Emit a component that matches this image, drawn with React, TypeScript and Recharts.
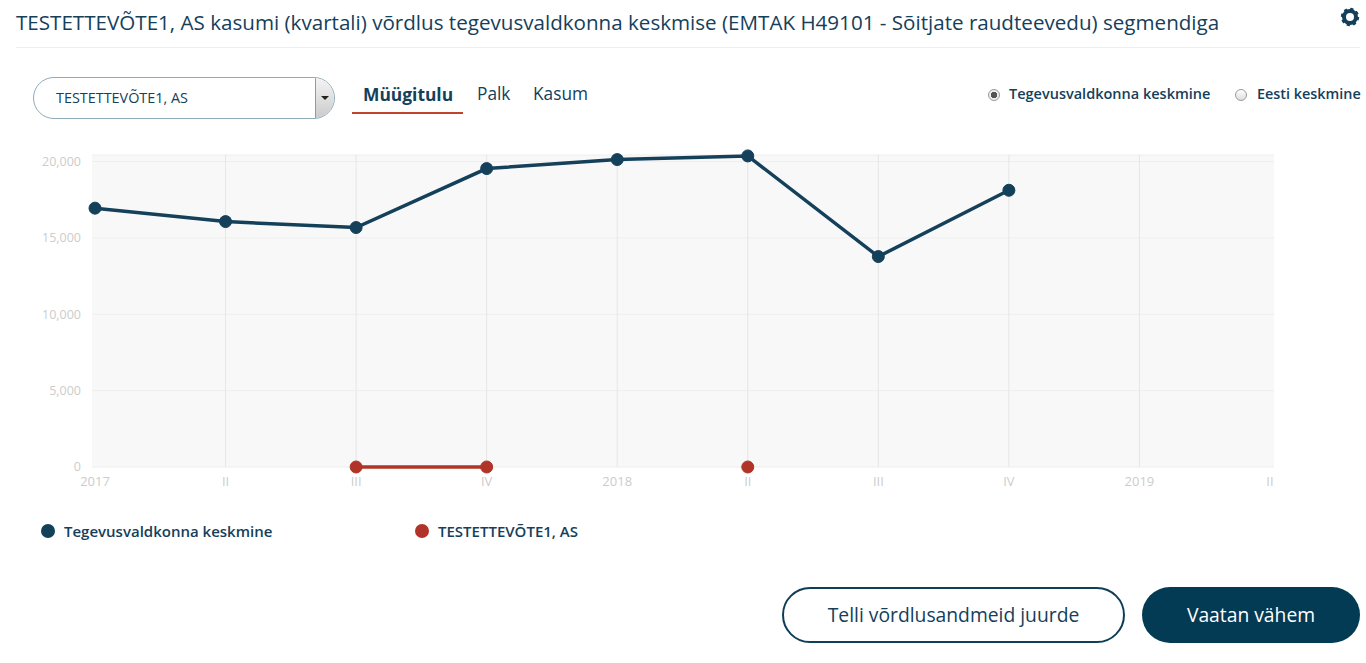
import { LineChart, Line, XAxis, YAxis, CartesianGrid, ReferenceLine, Legend } from 'recharts';

const tickLabels = ['2017', 'II', 'III', 'IV', '2018', 'II', 'III', 'IV', '2019', 'II'];
const sectorValues = [16950, 16070, 15680, 19540, 20130, 20370, 13780, 18120, null, null];
const companyValues = [null, null, 0, 0, null, 0, null, null, null, null];
const yTicks = [0, 5000, 10000, 15000, 20000];
const tabs = ['Müügitulu', 'Palk', 'Kasum'];

const SECTOR_NAME = 'Tegevusvaldkonna keskmine';
const COMPANY_NAME = 'TESTETTEVÕTE1, AS';

const NAVY = '#14405a';
const RED = '#b03427';
const FONT = '"Open Sans", sans-serif';

const data = tickLabels.map((label, i) => ({
  idx: i,
  label,
  sector: sectorValues[i],
  company: companyValues[i],
}));

function ChartLegend() {
  const items = [
    { name: SECTOR_NAME, color: NAVY, left: 41 },
    { name: COMPANY_NAME, color: RED, left: 415 },
  ];
  return (
    <div style={{ position: 'relative', height: 20, fontFamily: FONT }}>
      {items.map((item) => (
        <div key={item.name} style={{ position: 'absolute', left: item.left, top: 0, display: 'flex', alignItems: 'center', whiteSpace: 'nowrap' }}>
          <span style={{ width: 14, height: 14, borderRadius: '50%', background: item.color, marginRight: 9 }} />
          <span style={{ fontSize: 15, fontWeight: 600, color: NAVY }}>{item.name}</span>
        </div>
      ))}
    </div>
  );
}

function Radio({ left, checked }: { left: number; checked?: boolean }) {
  return (
    <span
      style={{
        position: 'absolute',
        left,
        top: 89,
        width: 12,
        height: 12,
        boxSizing: 'border-box',
        borderRadius: '50%',
        border: '1px solid #9a9a9a',
        background: checked ? 'radial-gradient(circle, #555 0 3px, #eee 3.5px)' : 'linear-gradient(#fff, #ddd)',
      }}
    />
  );
}

function Gear() {
  return (
    <svg width={20} height={20} viewBox="0 0 20 20" style={{ position: 'absolute', left: 1340, top: 7 }}>
      <circle cx={10} cy={10} r={6} fill="none" stroke={NAVY} strokeWidth={4} />
      <circle cx={10} cy={10} r={8} fill="none" stroke={NAVY} strokeWidth={2.4} strokeDasharray="3.2 3.08" />
    </svg>
  );
}

export default function App() {
  return (
    <div style={{ position: 'absolute', left: 0, top: 0, width: 1366, height: 663, overflow: 'hidden', background: '#fff', fontFamily: FONT, color: NAVY }}>
      <div style={{ position: 'absolute', left: 16, top: 8, fontSize: 20.6, whiteSpace: 'nowrap' }}>
        TESTETTEVÕTE1, AS kasumi (kvartali) võrdlus tegevusvaldkonna keskmise (EMTAK H49101 - Sõitjate raudteevedu) segmendiga
      </div>
      <Gear />
      <div style={{ position: 'absolute', left: 16, top: 47, width: 1344, height: 1, background: '#eeeeee' }} />

      {/* company select */}
      <div style={{ position: 'absolute', left: 33, top: 77, width: 302, height: 42, boxSizing: 'border-box', border: '1px solid #8fabb9', borderRadius: 21, overflow: 'hidden' }}>
        <div style={{ position: 'absolute', left: 22, top: 10, fontSize: 14.4, whiteSpace: 'nowrap' }}>{COMPANY_NAME}</div>
        <div style={{ position: 'absolute', right: 0, top: 0, width: 18, height: 42, background: 'linear-gradient(#f4f4f4, #c9c9c9)', borderLeft: '1px solid #999' }}>
          <span style={{ position: 'absolute', left: 5, top: 18, borderLeft: '4px solid transparent', borderRight: '4px solid transparent', borderTop: '4px solid #222' }} />
        </div>
      </div>

      {/* tabs */}
      <div style={{ position: 'absolute', left: 363, top: 82, fontSize: 17.4, fontWeight: 700, whiteSpace: 'nowrap' }}>{tabs[0]}</div>
      <div style={{ position: 'absolute', left: 477, top: 82, fontSize: 17.3, whiteSpace: 'nowrap' }}>{tabs[1]}</div>
      <div style={{ position: 'absolute', left: 533, top: 82, fontSize: 17.3, whiteSpace: 'nowrap' }}>{tabs[2]}</div>
      <div style={{ position: 'absolute', left: 352, top: 112, width: 111, height: 2, background: '#c0432a' }} />

      {/* comparison radios */}
      <Radio left={988} checked />
      <div style={{ position: 'absolute', left: 1009, top: 84, fontSize: 14.5, fontWeight: 600, whiteSpace: 'nowrap' }}>{SECTOR_NAME}</div>
      <Radio left={1235} />
      <div style={{ position: 'absolute', left: 1257, top: 84, fontSize: 14.4, fontWeight: 600, whiteSpace: 'nowrap' }}>Eesti keskmine</div>

      <div style={{ position: 'absolute', left: 0, top: 0 }}>
        <LineChart width={1366} height={663} data={data} margin={{ top: 155, right: 92, bottom: 146, left: 0 }}>
          <CartesianGrid vertical={false} fill="#f8f8f8" stroke="#eeeeee" />
          {data.slice(1, -1).map((d) => (
            <ReferenceLine key={d.idx} x={d.idx} stroke="#e6e6e6" />
          ))}
          <XAxis
            dataKey="idx"
            type="category"
            interval={0}
            padding={{ left: 3, right: 4 }}
            tickFormatter={(i: number) => tickLabels[i]}
            axisLine={false}
            tickLine={false}
            tickMargin={4}
            height={30}
            tick={{ fontSize: 13, fill: '#cccccc', fontFamily: FONT }}
          />
          <YAxis
            width={92}
            domain={[0, 20430]}
            ticks={yTicks}
            tickFormatter={(v: number) => v.toLocaleString('en-US')}
            axisLine={false}
            tickLine={false}
            tickMargin={5}
            tick={{ fontSize: 12.5, fill: '#cccccc', fontFamily: FONT }}
          />
          <Legend verticalAlign="bottom" content={<ChartLegend />} wrapperStyle={{ left: 0, top: 521, width: 1366 }} />
          <Line dataKey="sector" name={SECTOR_NAME} stroke={NAVY} strokeWidth={3.5} dot={{ r: 6, fill: NAVY, stroke: NAVY, strokeWidth: 1 }} isAnimationActive={false} />
          <Line dataKey="company" name={COMPANY_NAME} stroke={RED} strokeWidth={3.5} dot={{ r: 6, fill: RED, stroke: RED, strokeWidth: 1 }} isAnimationActive={false} />
        </LineChart>
      </div>

      {/* buttons */}
      <div style={{ position: 'absolute', left: 782, top: 587, width: 343, height: 56, boxSizing: 'border-box', border: '2px solid #0f3f58', borderRadius: 28, textAlign: 'center', lineHeight: '52px', fontSize: 19.3 }}>
        Telli võrdlusandmeid juurde
      </div>
      <div style={{ position: 'absolute', left: 1142, top: 587, width: 218, height: 56, background: '#033a54', color: '#fff', borderRadius: 28, textAlign: 'center', lineHeight: '56px', fontSize: 19.3 }}>
        Vaatan vähem
      </div>
    </div>
  );
}
